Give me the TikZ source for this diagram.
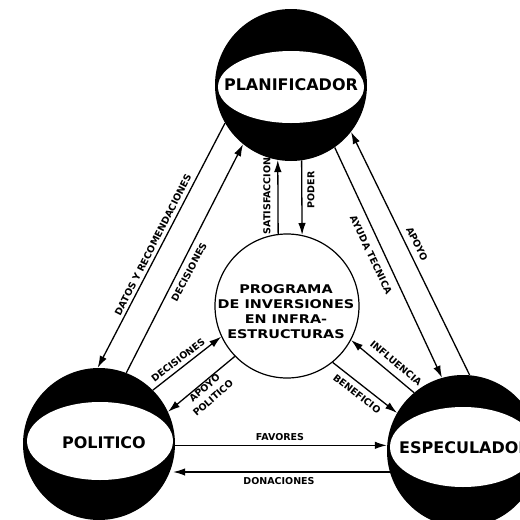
\documentclass[tikz,border=0pt]{standalone}
\usepackage{fontspec}
\setmainfont{DejaVu Sans}
\newfontfamily\centfont{DejaVu Sans}[FakeStretch=1.2]
\usetikzlibrary{arrows.meta,shapes.geometric}
\begin{document}
\begin{tikzpicture}[x=1pt,y=-1pt,
  planet/.style={circle, fill=black, minimum size=152pt, inner sep=0pt},
  hole/.style={ellipse, fill=white, inner sep=0pt, minimum width=146pt},
  big/.style={font=\fontsize{16}{18}\selectfont\bfseries, inner sep=0pt},
  lbl/.style={font=\fontsize{9.5}{11}\selectfont\bfseries, inner sep=0.5pt},
  arr/.style={line width=1.3pt, -{Latex[length=12pt,width=7.5pt]}},
]
\useasboundingbox[fill=white] (0,0) rectangle (520,520);

% spheres
\node[planet] (plan) at (291,85) {};
\node[hole, minimum height=72pt] (planh) at (291,87) {};
\node[big] (plant) at (291,85) {PLANIFICADOR};

\node[planet] (pol) at (99,444) {};
\node[hole, minimum height=78pt] (polh) at (100,441) {};
\node[big] (polt) at (104,443) {POLITICO};

\node[planet] (esp) at (463,451) {};
\node[hole, minimum height=80pt] (esph) at (463,447) {};
\node[big] (espt) at (465,448) {ESPECULADOR};

% centre
\node[circle, draw, line width=1.2pt, minimum size=144pt, inner sep=0pt] (cen) at (287,306) {};
\node[font=\centfont\bfseries\fontsize{12}{15}\selectfont, align=center, inner sep=0pt] (cent) at (286,312)
  {PROGRAMA\\DE INVERSIONES\\EN INFRA-\\ESTRUCTURAS};

% connectors
\draw[arr] (plan.210) -- (pol.91);
\draw[arr] (pol.69) -- (plan.231);
\draw[arr] (cen.97) -- (plan.260);
\draw[arr] (plan.278) -- (cen.78);
\draw[arr] (plan.305) -- (esp.106);
\draw[arr] (esp.85) -- (plan.322);
\draw[arr] (pol.45) -- (cen.205);
\draw[arr] (cen.224) -- (pol.25);
\draw[arr] (esp.130) -- (cen.332);
\draw[arr] (cen.309) -- (esp.150);
\draw[arr] (pol.-1.5) -- (pol.-1.5 -| esp.west);
\draw[arr] (esp.196) -- (esp.196 -| polh.east);

% labels
\node[lbl, rotate=63] (l1) at (153,245) {DATOS Y RECOMENDACIONES};
\node[lbl, rotate=62] (l2) at (189,272) {DECISIONES};
\node[lbl, rotate=90] (l3) at (267,196) {SATISFACCION};
\node[lbl, rotate=90] (l4) at (311,190) {PODER};
\node[lbl, rotate=-64.6] (l5) at (371,255) {AYUDA TECNICA};
\node[lbl, rotate=-64] (l6) at (417,244) {APOYO};
\node[lbl, rotate=37.6] (l7) at (178,360) {DECISIONES};
\node[lbl, rotate=41] (l8a) at (204.5,388) {APOYO};
\node[lbl, rotate=41] (l8b) at (213,398) {POLITICO};
\node[lbl, rotate=-40] (l9) at (396,363) {INFLUENCIA};
\node[lbl, rotate=-37.5] (l10) at (357,394) {BENEFICIO};
\node[lbl] (l11) at (280,437) {FAVORES};
\node[lbl] (l12) at (279,481) {DONACIONES};
\end{tikzpicture}
\end{document}
